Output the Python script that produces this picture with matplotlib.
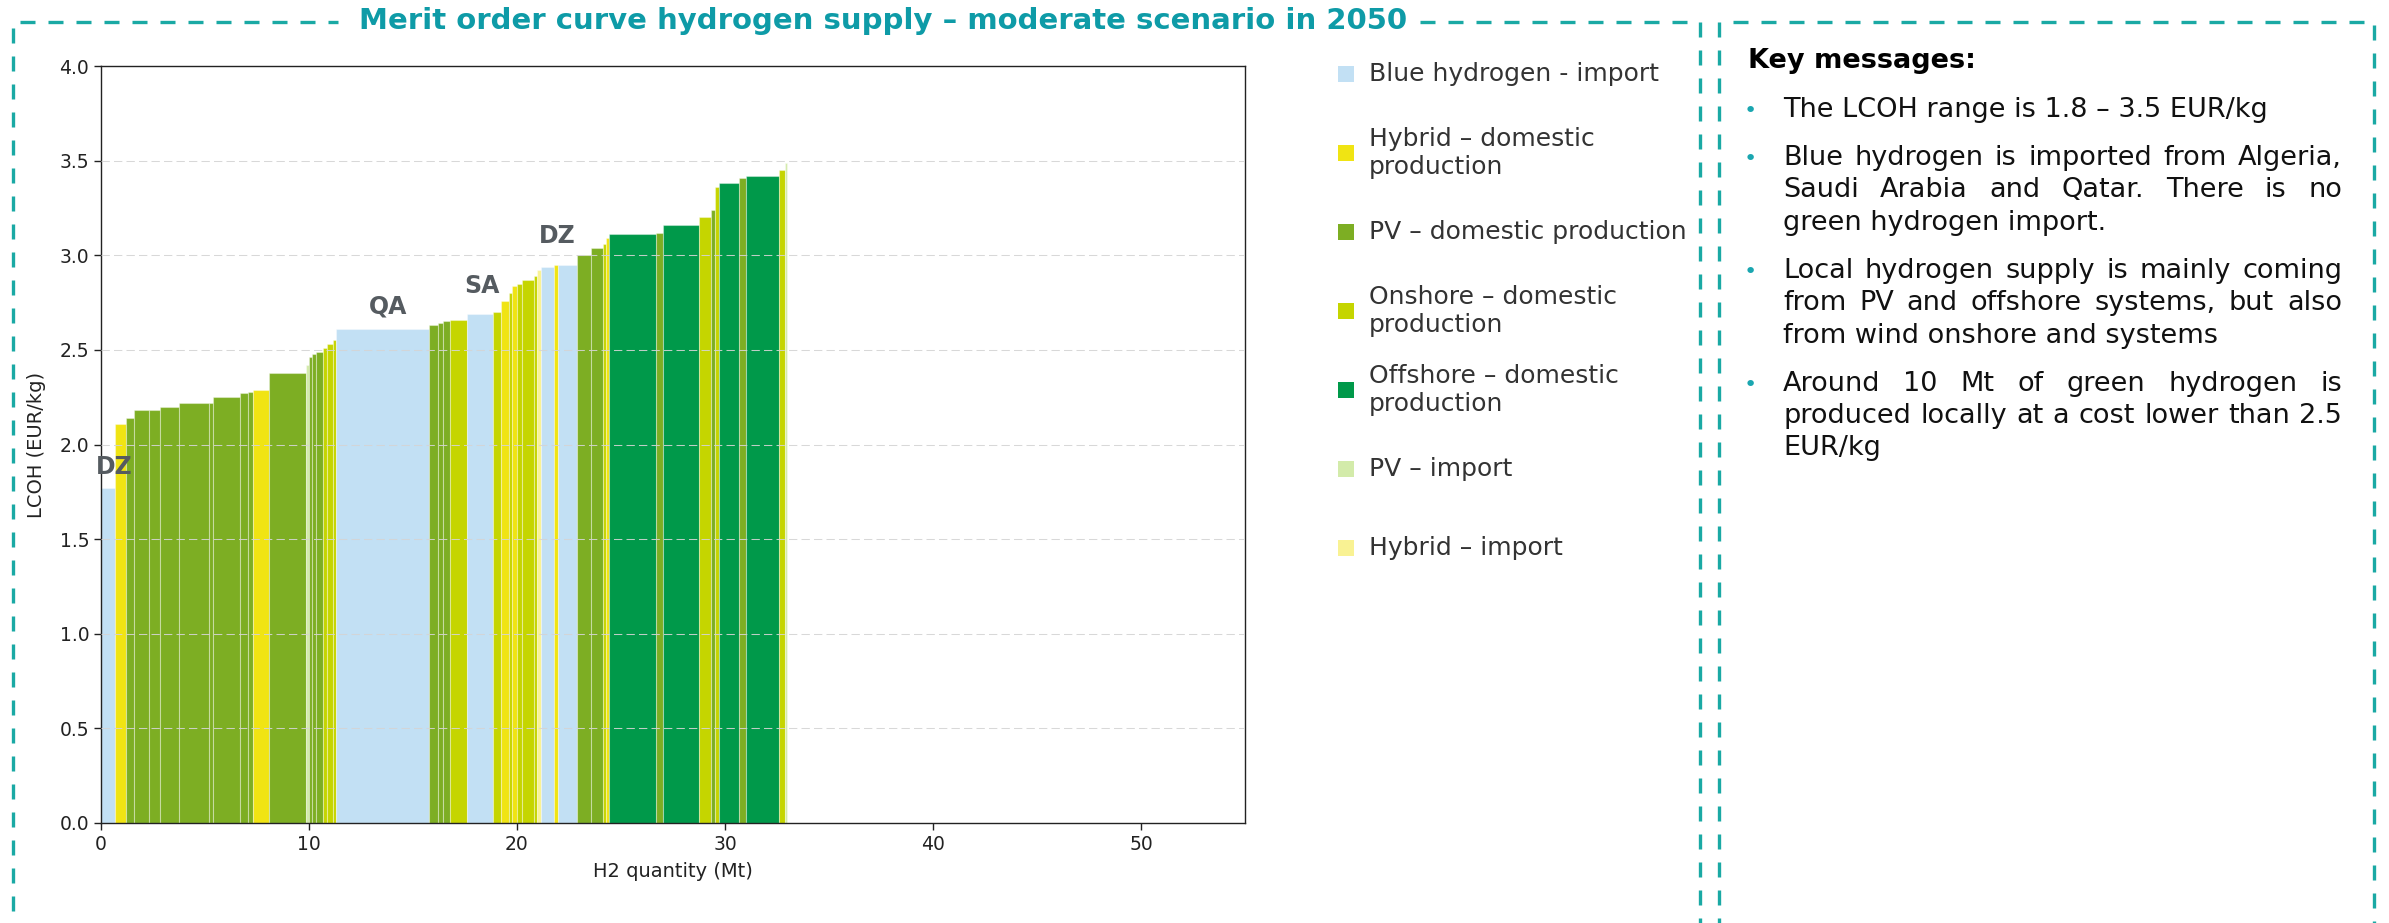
import matplotlib
matplotlib.use('Agg')
import matplotlib.pyplot as plt
from matplotlib.lines import Line2D
from matplotlib.patches import Rectangle
import numpy as np

W, H = 2389, 923

# supply blocks in merit order: cumulative quantity at end of block (Mt), LCOH (EUR/kg), technology
q_end = [0.66, 1.19, 1.59, 2.32, 2.83, 3.73, 5.21, 5.40, 6.69, 7.06, 7.30, 8.07,
         9.87, 10.00, 10.16, 10.32, 10.65, 10.87, 11.13, 11.29, 15.79, 16.18, 16.42,
         16.79, 17.59, 18.83, 19.23, 19.60, 19.76, 20.00, 20.24, 20.81, 20.97, 21.13,
         21.77, 21.96, 22.90, 23.54, 24.14, 24.26, 24.43, 26.68, 27.00, 28.77, 29.33,
         29.52, 29.73, 30.65, 31.02, 32.58, 32.87, 32.97]
lcoh = [1.77, 2.11, 2.14, 2.18, 2.18, 2.20, 2.22, 2.22, 2.25, 2.27, 2.28, 2.29,
        2.38, 2.42, 2.46, 2.48, 2.49, 2.51, 2.53, 2.55, 2.61, 2.63, 2.64,
        2.65, 2.66, 2.69, 2.70, 2.76, 2.80, 2.84, 2.85, 2.87, 2.89, 2.92,
        2.94, 2.95, 2.95, 3.00, 3.04, 3.06, 3.09, 3.11, 3.12, 3.16, 3.20,
        3.24, 3.36, 3.38, 3.41, 3.42, 3.45, 3.49]
tech = ['blue', 'hyb', 'pv', 'pv', 'pv', 'pv', 'pv', 'pv', 'pv', 'pv', 'pv', 'hyb',
        'pv', 'pv_imp', 'pv', 'pv', 'pv', 'on', 'on', 'on', 'blue', 'pv', 'pv',
        'pv', 'on', 'blue', 'on', 'hyb', 'on', 'hyb', 'on', 'on', 'on', 'hyb_imp',
        'blue', 'hyb', 'blue', 'pv', 'pv', 'on', 'hyb', 'off', 'pv', 'off', 'on',
        'pv', 'on', 'off', 'pv', 'off', 'on', 'pv_imp']

tech_keys = ['blue', 'hyb', 'pv', 'on', 'off', 'pv_imp', 'hyb_imp']
tech_labels = ['Blue hydrogen - import', 'Hybrid – domestic\nproduction',
               'PV – domestic production', 'Onshore – domestic\nproduction',
               'Offshore – domestic\nproduction', 'PV – import', 'Hybrid – import']
tech_colors = ['#c2e0f4', '#f0e413', '#7dae23', '#c5d500', '#00994a', '#d3ebaa', '#f9f293']

# exporting country of the blue hydrogen blocks
tag_text = ['DZ', 'QA', 'SA', 'DZ']
tag_q = [0.63, 13.8, 18.3, 21.95]
tag_lcoh = [1.88, 2.73, 2.84, 3.10]

bullets = [
    ['The LCOH range is 1.8 – 3.5 EUR/kg'],
    ['Blue hydrogen is imported from Algeria,',
     'Saudi Arabia and Qatar. There is no',
     'green hydrogen import.'],
    ['Local hydrogen supply is mainly coming',
     'from PV and offshore systems, but also',
     'from wind onshore and systems'],
    ['Around 10 Mt of green hydrogen is',
     'produced locally at a cost lower than 2.5',
     'EUR/kg'],
]

TEAL = '#1aa9a4'


def fx(px):
    return px / W


def fy(py):
    return 1 - py / H


fig = plt.figure(figsize=(W / 100, H / 100), dpi=100)
ax = fig.add_axes([fx(101), fy(823), fx(1245) - fx(101), fy(66) - fy(823)])

q_end = np.array(q_end)
q_start = np.concatenate([[0], q_end[:-1]])
color_of = dict(zip(tech_keys, tech_colors))
ax.bar(q_start, lcoh, width=q_end - q_start, align='edge',
       color=[color_of[t] for t in tech], edgecolor=(1, 1, 1, 0.35), linewidth=0.8)

for txt, q, y in zip(tag_text, tag_q, tag_lcoh):
    ax.text(q, y, txt, ha='center', va='center', fontsize=17, fontweight='bold',
            color='#555b60', zorder=5)

ax.set_xlim(0, 55)
ax.set_ylim(0, 4.0)
ax.set_xticks(np.arange(0, 51, 10))
yticks = np.arange(0, 4.01, 0.5)
ax.set_yticks(yticks)
ax.yaxis.set_major_formatter(matplotlib.ticker.FormatStrFormatter('%.1f'))
ax.tick_params(labelsize=13.5, colors='#222222', length=5, width=1)
# dashed grid drawn over the bars, inner ticks only
for y in yticks[1:-1]:
    ax.axhline(y, linestyle=(0, (8, 4)), linewidth=0.75, color='#d4d4d4', alpha=0.9, zorder=3)
for s in ax.spines.values():
    s.set_color('#222222')
    s.set_linewidth(1)
ax.set_xlabel('H2 quantity (Mt)', fontsize=14, color='#222222', labelpad=6)
ax.set_ylabel('LCOH (EUR/kg)', fontsize=14, color='#222222', labelpad=10)

# legend, one entry per technology
for i, (lab, col) in enumerate(zip(tech_labels, tech_colors)):
    yc = 74 + i * 79
    fig.add_artist(Rectangle((fx(1338), fy(yc + 8)), fx(16), 16 / H,
                             transform=fig.transFigure, color=col, lw=0))
    fig.text(fx(1369), fy(yc), lab, va='center', ha='left', fontsize=18,
             color='#333333', linespacing=1.25)

# title and dashed frames
fig.text(fx(883), fy(21), 'Merit order curve hydrogen supply – moderate scenario in 2050',
         ha='center', va='center', fontsize=21, fontweight='bold', color='#0e9ba7')
frame_segments = [
    ((20, 22), (338, 22)),
    ((1420, 22), (1700, 22)),
    ((12.7, 28), (12.7, 930)),
    ((1700, 22), (1700, 930)),
    ((1719, 22), (1719, 930)),
    ((1733, 22), (2368, 22)),
    ((2374, 25), (2374, 930)),
]
for (x0, y0), (x1, y1) in frame_segments:
    fig.add_artist(Line2D([fx(x0), fx(x1)], [fy(y0), fy(y1)], transform=fig.transFigure,
                          color=TEAL, linewidth=2.4, linestyle=(0, (4.5, 3.9))))

# key messages panel with justified paragraphs
fig.text(fx(1748), fy(68), 'Key messages:', ha='left', va='baseline', fontsize=19.5,
         fontweight='bold', color='#000000')

renderer = fig.canvas.get_renderer()


def text_width(s, **kw):
    t = fig.text(0, 0, s, **kw)
    w = t.get_window_extent(renderer).width
    t.remove()
    return w


body = dict(fontsize=19.5, color='#111111', va='baseline', ha='left')
x_left, x_right = 1783, 2342
base = 117
for para in bullets:
    fig.text(fx(1744), fy(base), '•', fontsize=16, color='#1aa6b0', va='baseline')
    for j, line in enumerate(para):
        last = j == len(para) - 1
        if last:
            fig.text(fx(x_left), fy(base), line, **body)
        else:
            words = line.split(' ')
            widths = [text_width(w, **body) for w in words]
            gap = (x_right - x_left - sum(widths)) / (len(words) - 1)
            x = x_left
            for w, wd in zip(words, widths):
                fig.text(fx(x), fy(base), w, **body)
                x += wd + gap
        base += 32.4 if not last else 48

fig.savefig('out.png', dpi=100)
